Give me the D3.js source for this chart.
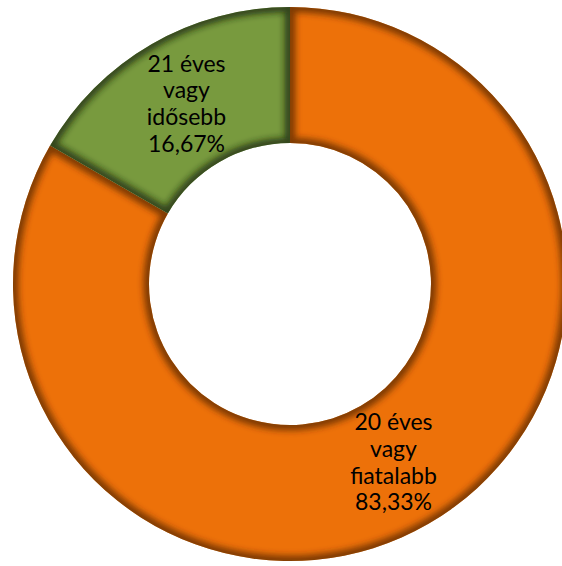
<!DOCTYPE html>
<html><head><meta charset="utf-8">
<script src="https://cdn.jsdelivr.net/npm/d3@7"></script>
<style>html,body{margin:0;padding:0;background:#fff;}svg{display:block;}</style>
</head><body>
<script>
const categories = ["20 éves vagy fiatalabb", "21 éves vagy idősebb"];
const labelLines = [["20 éves", "vagy", "fiatalabb"], ["21 éves", "vagy", "idősebb"]];
const values = [83.33, 16.67];
const pctLabels = ["83,33%", "16,67%"];
const colors = ["#ED7109", "#789A3E"];
const edgeColors = ["#5a2500", "#1e2a0a"];

const W = 562, H = 566;
const cx = 290, cy = 284, R = 277, r0 = 141;

const svg = d3.select("body").append("svg").attr("width", W).attr("height", H);
const defs = svg.append("defs");
const blur = defs.append("filter").attr("id", "edgeblur").attr("x", "-20%").attr("y", "-20%").attr("width", "140%").attr("height", "140%");
blur.append("feGaussianBlur").attr("stdDeviation", 3);

const pie = d3.pie().sort(null).value(d => d)(values);
const arc = d3.arc().innerRadius(r0).outerRadius(R);
const labelArc = d3.arc().innerRadius(207).outerRadius(207);

const g = svg.append("g").attr("transform", `translate(${cx},${cy})`);

pie.forEach((p, i) => {
  const d = arc(p);
  defs.append("clipPath").attr("id", "clip" + i).append("path").attr("d", d);
  g.append("path").attr("d", d).attr("fill", colors[i]);
  g.append("g").attr("clip-path", `url(#clip${i})`)
    .append("path").attr("d", d)
    .attr("fill", "none").attr("stroke", edgeColors[i]).attr("stroke-width", 11)
    .attr("stroke-opacity", 0.75).attr("filter", "url(#edgeblur)");
});

pie.forEach((p, i) => {
  const [x, y] = labelArc.centroid(p);
  const lines = labelLines[i].concat([pctLabels[i]]);
  const lh = 26.7;
  const t = g.append("text").attr("text-anchor", "middle")
    .attr("font-family", "Lato, 'Liberation Sans', sans-serif").attr("font-size", 23).attr("fill", "#000");
  lines.forEach((ln, k) => {
    t.append("tspan").attr("x", x).attr("y", y + (k - (lines.length - 1) / 2) * lh + 7).text(ln);
  });
});
</script>
</body></html>
